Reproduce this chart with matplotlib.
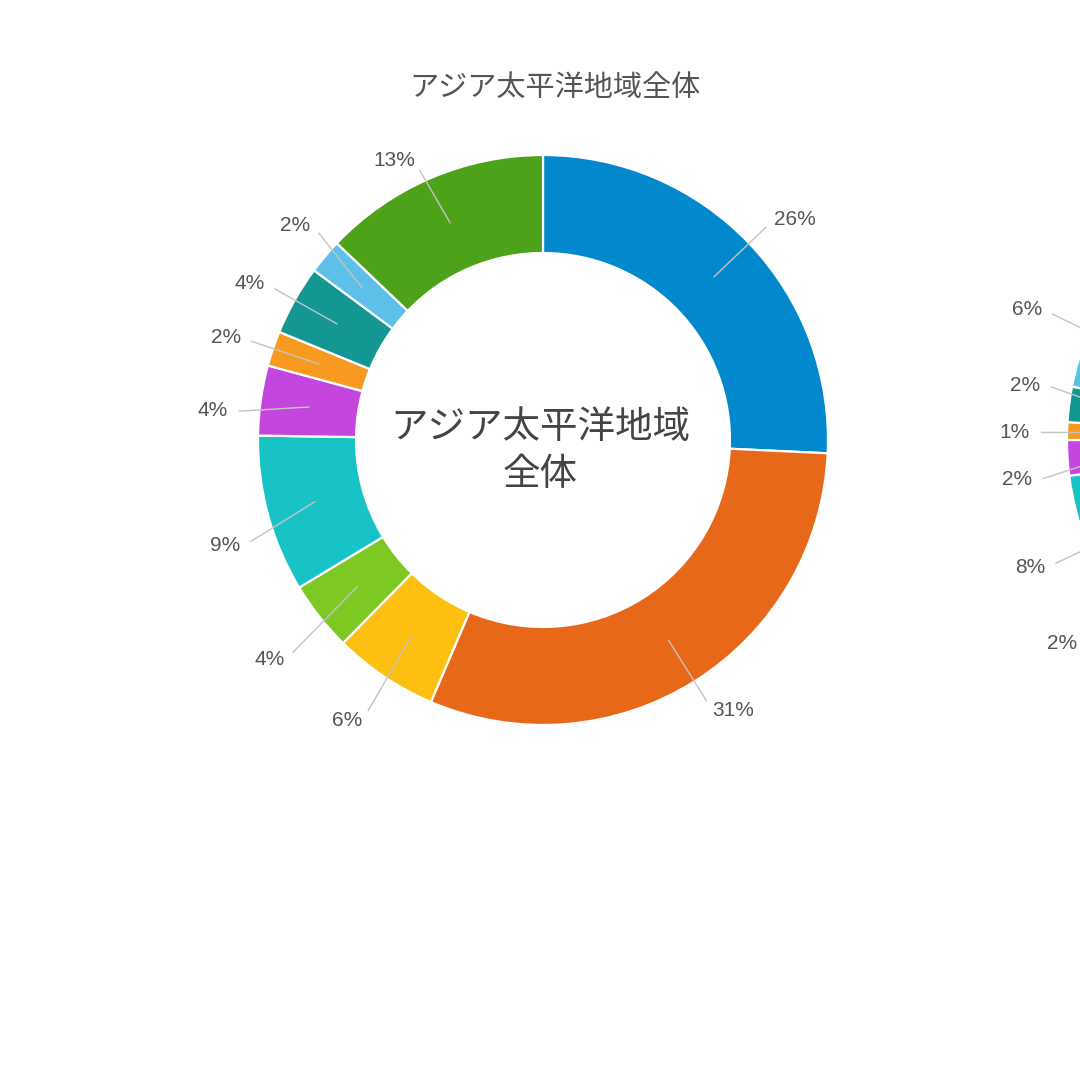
import numpy as np
import matplotlib
matplotlib.use("Agg")
import matplotlib.pyplot as plt

plt.rcParams['font.family'] = ['Noto Sans CJK JP', 'DejaVu Sans']

# ---- data ----
title_main = "アジア太平洋地域全体"
center_text = "アジア太平洋地域\n全体"

colors = ["#0288CC", "#E8681A", "#FDBF10", "#7DC823", "#17C3C5",
          "#C546DE", "#F79A1F", "#149692", "#5CC0E8", "#4DA21A"]

# left donut (Asia-Pacific total), clockwise from top
values_left = [26, 31, 6, 4, 9, 4, 2, 4, 2, 13]
labels_left = ["26%", "31%", "6%", "4%", "9%", "4%", "2%", "4%", "2%", "13%"]

# right donut (partially visible at the right edge)
values_right = [24, 33, 6, 2, 8, 2, 1, 2, 6, 16]
labels_right = ["24%", "33%", "6%", "2%", "8%", "2%", "1%", "2%", "6%", "16%"]

# ---- layout (label placement tweaks: angle nudge in degrees clockwise, radius factor) ----
nudge_left = [(0, 1.12), (0, 1.12), (-1, 1.17), (-2, 1.19), (-4, 1.125),
              (-2.6, 1.11), (0, 1.12), (0, 1.12), (2.6, 1.11), (-1.4, 1.08)]
nudge_right = [(0, 1.12), (0, 1.12), (0, 1.12), (3.1, 1.2), (-1, 1.165),
               (-3.5, 1.13), (-0.4, 1.13), (2.8, 1.11), (1.2, 1.18), (0, 1.12)]

W = 1080
fig = plt.figure(figsize=(10.8, 10.8), dpi=100)
ax = fig.add_axes([0, 0, 1, 1])

R = 285
ring = 0.344


def donut(cx, cy, vals, labs, nudges):
    wedges, _ = ax.pie(vals, colors=colors, startangle=90, counterclock=False,
                       radius=R, center=(cx, cy),
                       wedgeprops=dict(width=R * ring, edgecolor="white", linewidth=1.6))
    for w, lab, (dth, rf) in zip(wedges, labs, nudges):
        mid = np.deg2rad((w.theta1 + w.theta2) / 2)
        ang = mid - np.deg2rad(dth)
        c0, s0 = np.cos(mid), np.sin(mid)
        c, s = np.cos(ang), np.sin(ang)
        tx, ty = cx + rf * R * c, cy + rf * R * s
        ha = "left" if c > 0 else "right"
        visible = (tx < W) if ha == "left" else (tx - 25 < W)
        if not visible:
            continue
        ax.plot([cx + 0.83 * R * c0, cx + (rf - 0.04) * R * c],
                [cy + 0.83 * R * s0, cy + (rf - 0.04) * R * s],
                color="#c4c4c4", lw=1.0, zorder=3)
        ax.text(tx, ty, lab, ha=ha, va="center",
                fontsize=15, color="#555555",
                family=["Liberation Sans", "DejaVu Sans"])


donut(543, W - 440, values_left, labels_left, nudge_left)
donut(1352, W - 440, values_right, labels_right, nudge_right)

ax.text(555, W - 88, title_main, ha="center", va="center",
        fontsize=21, color="#555555")
ax.text(540, W - 451, center_text, ha="center", va="center",
        fontsize=27, color="#444444", linespacing=1.25)

ax.set_xlim(0, W)
ax.set_ylim(0, W)
ax.set_aspect("equal")
ax.axis("off")

fig.savefig("out.png", dpi=100, facecolor="white")
